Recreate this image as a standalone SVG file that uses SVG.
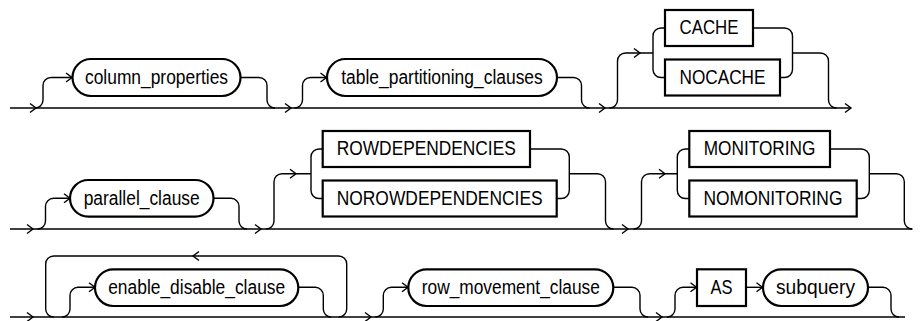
<svg xmlns="http://www.w3.org/2000/svg" xmlns:xlink="http://www.w3.org/1999/xlink" width="923" height="321" viewBox="0 0 923 321">
<style>
.ln{fill:none;stroke:#000;stroke-width:1.4}
.bx{fill:#fff;stroke:#000;stroke-width:2.2}
.tx{font-family:"Liberation Sans",Arial,sans-serif;font-size:20px;fill:#000;text-anchor:middle}
</style>
<defs>
<path id="ar" d="M-6,-4.5 L0,0 L-6,4.5" fill="none" stroke="#000" stroke-width="1.4"/>
</defs>
<rect width="923" height="321" fill="#fff"/>
<g id="connectors">
<!-- row 1 -->
<path class="ln" d="M10,108 H851"/>
<path class="ln" d="M35,108 A8,8 0 0 0 43,100 V85.5 A8,8 0 0 1 51,77.5 H72.5"/>
<path class="ln" d="M240.5,77.5 H259 A8,8 0 0 1 267,85.5 V100 A8,8 0 0 0 275,108"/>
<path class="ln" d="M294.5,108 A8,8 0 0 0 302.5,100 V85.5 A8,8 0 0 1 310.5,77.5 H327"/>
<path class="ln" d="M557,77.5 H573.5 A8,8 0 0 1 581.5,85.5 V100 A8,8 0 0 0 589.5,108"/>
<path class="ln" d="M609.5,108 A8,8 0 0 0 617.5,100 V61 A8,8 0 0 1 625.5,53 H653"/>
<path class="ln" d="M665,28 H661 A8,8 0 0 0 653,36 V69.5 A8,8 0 0 0 661,77.5 H665"/>
<path class="ln" d="M753,28 H784.5 A8,8 0 0 1 792.5,36 V69.5 A8,8 0 0 1 784.5,77.5 H780"/>
<path class="ln" d="M792.5,53 H820.5 A8,8 0 0 1 828.5,61 V100 A8,8 0 0 0 836.5,108"/>
<use xlink:href="#ar" x="36" y="108"/>
<use xlink:href="#ar" x="72" y="77.5"/>
<use xlink:href="#ar" x="291" y="108"/>
<use xlink:href="#ar" x="326.5" y="77.5"/>
<use xlink:href="#ar" x="605" y="108"/>
<use xlink:href="#ar" x="640" y="53"/>
<use xlink:href="#ar" x="851" y="108"/>
<!-- row 2 -->
<path class="ln" d="M10,229 H912.3"/>
<path class="ln" d="M37.5,229 A8,8 0 0 0 45.5,221 V206.3 A8,8 0 0 1 53.5,198.3 H70"/>
<path class="ln" d="M213.5,198.3 H231 A8,8 0 0 1 239,206.3 V221 A8,8 0 0 0 247,229"/>
<path class="ln" d="M266,229 A8,8 0 0 0 274,221 V181.7 A8,8 0 0 1 282,173.7 H311"/>
<path class="ln" d="M322.7,149 H319 A8,8 0 0 0 311,157 V190.5 A8,8 0 0 0 319,198.5 H322.7"/>
<path class="ln" d="M530,149 H561.3 A8,8 0 0 1 569.3,157 V190.5 A8,8 0 0 1 561.3,198.5 H556.7"/>
<path class="ln" d="M569.3,173.7 H597.5 A8,8 0 0 1 605.5,181.7 V221 A8,8 0 0 0 613.5,229"/>
<path class="ln" d="M633.5,229 A8,8 0 0 0 641.5,221 V181.7 A8,8 0 0 1 649.5,173.7 H677.3"/>
<path class="ln" d="M689.3,149 H685.3 A8,8 0 0 0 677.3,157 V190.5 A8,8 0 0 0 685.3,198.5 H689.3"/>
<path class="ln" d="M830,149 H861.3 A8,8 0 0 1 869.3,157 V190.5 A8,8 0 0 1 861.3,198.5 H856.7"/>
<path class="ln" d="M869.3,173.7 H896.3 A8,8 0 0 1 904.3,181.7 V221 A8,8 0 0 0 912.3,229"/>
<use xlink:href="#ar" x="33" y="229"/>
<use xlink:href="#ar" x="70" y="198.3"/>
<use xlink:href="#ar" x="261" y="229"/>
<use xlink:href="#ar" x="296" y="173.7"/>
<use xlink:href="#ar" x="628" y="229"/>
<use xlink:href="#ar" x="665" y="173.7"/>
<!-- row 3 -->
<path class="ln" d="M10,317 H905"/>
<path class="ln" d="M338.7,317 A8,8 0 0 0 346.7,309 V264 A8,8 0 0 0 338.7,256 H53.7 A8,8 0 0 0 45.7,264 V309 A8,8 0 0 0 53.7,317"/>
<path class="ln" d="M62,317 A8,8 0 0 0 70,309 V295.3 A8,8 0 0 1 78,287.3 H95"/>
<path class="ln" d="M298.3,287.3 H315.3 A8,8 0 0 1 323.3,295.3 V309 A8,8 0 0 0 331.3,317"/>
<path class="ln" d="M375.3,317 A8,8 0 0 0 383.3,309 V295.3 A8,8 0 0 1 391.3,287.3 H408.3"/>
<path class="ln" d="M613.3,287.3 H632 A8,8 0 0 1 640,295.3 V309 A8,8 0 0 0 648,317"/>
<path class="ln" d="M667,317 A8,8 0 0 0 675,309 V295.3 A8,8 0 0 1 683,287.3 H697"/>
<path class="ln" d="M746,287.3 H763"/>
<path class="ln" d="M868,287.3 H883 A8,8 0 0 1 891,295.3 V309 A8,8 0 0 0 899,317"/>
<use xlink:href="#ar" x="33" y="317"/>
<use xlink:href="#ar" transform="translate(193,256) rotate(180)"/>
<use xlink:href="#ar" x="95" y="287.3"/>
<use xlink:href="#ar" x="371" y="317"/>
<use xlink:href="#ar" x="408" y="287.3"/>
<use xlink:href="#ar" x="662" y="317"/>
<use xlink:href="#ar" x="696.5" y="287.3"/>
<use xlink:href="#ar" x="762.5" y="287.3"/>
</g>
<g id="column_properties"><rect class="bx" x="72.5" y="59" width="168" height="37" rx="18.5"/><text class="tx" x="156.5" y="83.5" textLength="143" lengthAdjust="spacingAndGlyphs">column_properties</text></g>
<g id="table_partitioning_clauses"><rect class="bx" x="327" y="59" width="230" height="37" rx="18.5"/><text class="tx" x="442" y="83.5" textLength="201.6" lengthAdjust="spacingAndGlyphs">table_partitioning_clauses</text></g>
<g id="CACHE"><rect class="bx" x="665" y="10" width="88" height="36"/><text class="tx" x="709" y="34" textLength="59" lengthAdjust="spacingAndGlyphs">CACHE</text></g>
<g id="NOCACHE"><rect class="bx" x="665" y="59.5" width="115" height="36"/><text class="tx" x="722.5" y="83.5" textLength="86" lengthAdjust="spacingAndGlyphs">NOCACHE</text></g>
<g id="parallel_clause"><rect class="bx" x="70" y="180" width="143.5" height="36.6" rx="18.3"/><text class="tx" x="141.7" y="204.5" textLength="116" lengthAdjust="spacingAndGlyphs">parallel_clause</text></g>
<g id="ROWDEPENDENCIES"><rect class="bx" x="322.7" y="131" width="207.3" height="36"/><text class="tx" x="426.3" y="155" textLength="179" lengthAdjust="spacingAndGlyphs">ROWDEPENDENCIES</text></g>
<g id="NOROWDEPENDENCIES"><rect class="bx" x="322.7" y="180.5" width="234" height="36"/><text class="tx" x="439.7" y="204.5" textLength="206" lengthAdjust="spacingAndGlyphs">NOROWDEPENDENCIES</text></g>
<g id="MONITORING"><rect class="bx" x="689.3" y="131" width="140.7" height="36"/><text class="tx" x="759.6" y="155" textLength="111.7" lengthAdjust="spacingAndGlyphs">MONITORING</text></g>
<g id="NOMONITORING"><rect class="bx" x="689.3" y="180.5" width="167.4" height="36"/><text class="tx" x="773" y="204.5" textLength="139" lengthAdjust="spacingAndGlyphs">NOMONITORING</text></g>
<g id="enable_disable_clause"><rect class="bx" x="95" y="269.3" width="203.3" height="36.7" rx="18.3"/><text class="tx" x="196.7" y="293.5" textLength="177" lengthAdjust="spacingAndGlyphs">enable_disable_clause</text></g>
<g id="row_movement_clause"><rect class="bx" x="408.3" y="269.3" width="205" height="36.7" rx="18.3"/><text class="tx" x="510.8" y="293.5" textLength="178" lengthAdjust="spacingAndGlyphs">row_movement_clause</text></g>
<g id="AS"><rect class="bx" x="697" y="269.3" width="49" height="36.7"/><text class="tx" x="721.5" y="293.5" textLength="22" lengthAdjust="spacingAndGlyphs">AS</text></g>
<g id="subquery"><rect class="bx" x="763" y="269.3" width="105" height="36.7" rx="18.3"/><text class="tx" x="815.5" y="293.5" textLength="79" lengthAdjust="spacingAndGlyphs">subquery</text></g>
</svg>
